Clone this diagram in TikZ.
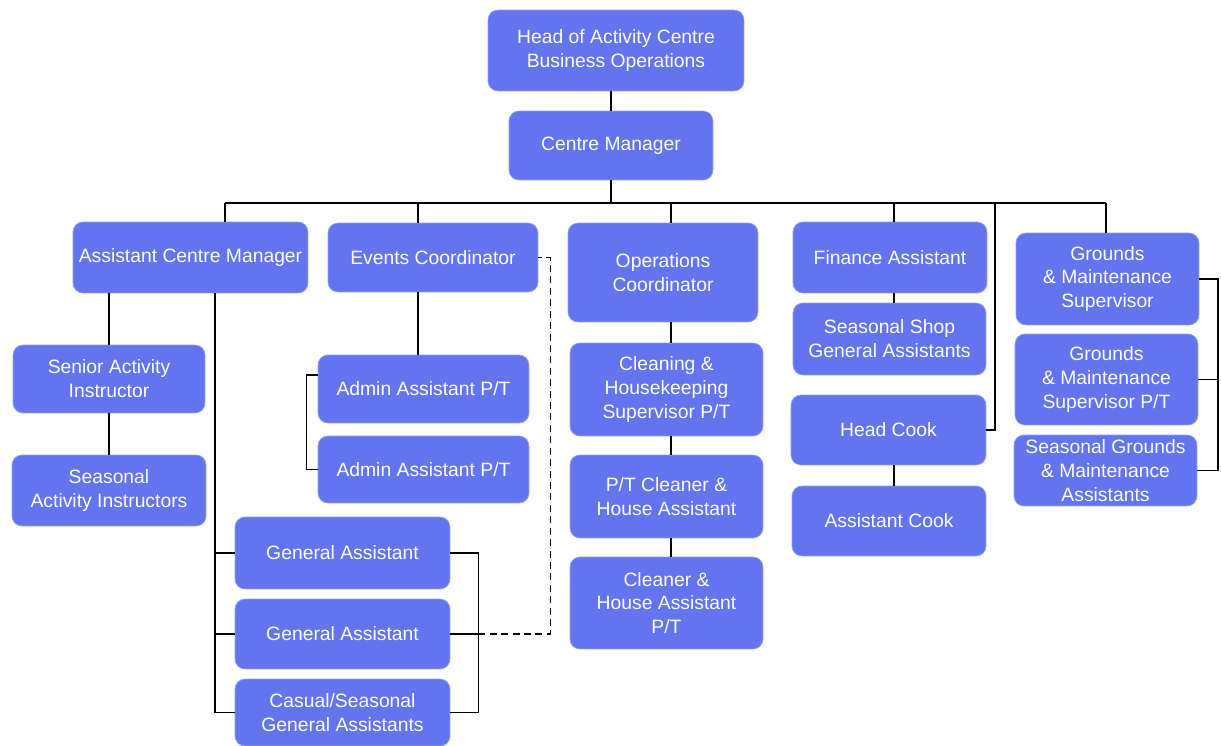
\documentclass[tikz,border=0pt]{standalone}
\usepackage{fontspec}
\setmainfont{Liberation Sans}
\definecolor{postblue}{HTML}{6375EE}

\begin{document}
\begin{tikzpicture}[x=0.02cm,y=-0.02cm,
  post/.style={fill=postblue,draw=postblue!70!white,line width=0.4pt,rounded corners=0.2cm,
    text=white,align=center,inner sep=1pt,font=\fontsize{11}{13.6}\selectfont},
  link/.style={line width=0.8pt}]
\useasboundingbox (0,0) rectangle (1221,746);

\node[post,minimum width=5.12cm,minimum height=1.62cm] (head) at (616,50.5) {Head of Activity Centre\\Business Operations};
\node[post,minimum width=4.08cm,minimum height=1.38cm] (cm) at (611,145.5) {Centre Manager};

\node[post,minimum width=4.7cm,minimum height=1.42cm] (acm) at (190.5,257.5) {Assistant Centre Manager};
\node[post,minimum width=4.2cm,minimum height=1.38cm] (ec) at (433,257.5) {Events Coordinator};
\node[post,minimum width=3.8cm,minimum height=1.98cm] (oc) at (663,272.5) {Operations\\Coordinator};
\node[post,minimum width=3.88cm,minimum height=1.42cm] (fa) at (890,257.5) {Finance Assistant};
\node[post,minimum width=3.66cm,minimum height=1.84cm] (gms) at (1107.5,279) {Grounds\\\& Maintenance\\Supervisor};

\node[post,minimum width=3.84cm,minimum height=1.36cm] (sai) at (109,379) {Senior Activity\\Instructor};
\node[post,minimum width=3.88cm,minimum height=1.42cm] (sais) at (109,490.5) {Seasonal\\Activity Instructors};

\node[post,minimum width=4.22cm,minimum height=1.36cm] (adm1) at (423.5,389) {Admin Assistant P/T};
\node[post,minimum width=4.22cm,minimum height=1.34cm] (adm2) at (423.5,469.5) {Admin Assistant P/T};

\node[post,minimum width=4.3cm,minimum height=1.44cm] (ga1) at (342.5,553) {General Assistant};
\node[post,minimum width=4.3cm,minimum height=1.4cm] (ga2) at (342.5,634) {General Assistant};
\node[post,minimum width=4.3cm,minimum height=1.34cm] (cas) at (342.5,712.5) {Casual/Seasonal\\General Assistants};

\node[post,minimum width=3.86cm,minimum height=1.86cm] (clean) at (666.5,389.5) {Cleaning \&\\Housekeeping\\Supervisor P/T};
\node[post,minimum width=3.86cm,minimum height=1.66cm] (ptc) at (666.5,496.5) {P/T Cleaner \&\\House Assistant};
\node[post,minimum width=3.86cm,minimum height=1.84cm] (chp) at (666.5,603) {Cleaner \&\\House Assistant\\P/T};

\node[post,minimum width=3.86cm,minimum height=1.44cm] (ssga) at (889.5,339) {Seasonal Shop\\General Assistants};
\node[post,minimum width=3.9cm,minimum height=1.4cm] (hc) at (888.5,430) {Head Cook};
\node[post,minimum width=3.88cm,minimum height=1.4cm] (ac) at (889,521) {Assistant Cook};

\node[post,minimum width=3.66cm,minimum height=1.82cm] (gms2) at (1106.5,379.5) {Grounds\\\& Maintenance\\Supervisor P/T};
\node[post,minimum width=3.66cm,minimum height=1.42cm] (sgma) at (1105.5,470.5) {Seasonal Grounds\\\& Maintenance\\Assistants};

% top line
\draw[link] (cm.north) -- (cm.north |- head.south);
\coordinate (b1) at (225,203);
\coordinate (b2) at (418,203);
\coordinate (b3) at (671,203);
\coordinate (b4) at (894,203);
\coordinate (b5) at (995,203);
\coordinate (b6) at (1106,203);
\draw[link] (b1) -- (b6);
\draw[link] (cm.south) -- (cm.south |- b1);
\foreach \b/\n in {b1/acm,b2/ec,b3/oc,b4/fa,b6/gms}
  \draw[link] (\b) -- (\n.north -| \b);
\draw[link] (b5) |- (hc.east);

% assistant centre manager
\draw[link] (sai.north) -- (sai.north |- acm.south);
\draw[link] (sai) -- (sais);
\coordinate (gas) at (215,710);
\draw[link] (gas |- acm.south) -- (gas);
\draw[link] (ga1.west) -| (gas);
\draw[link] (ga2.west) -| (gas);
\draw[link] (cas.west) -| (gas);
\draw[link] (ga1.east) -- ++(28,0) |- (cas.east);
\draw[link] (ga2.east) -- ++(28,0) coordinate (gam);
\draw[link,dash pattern=on 4pt off 2.5pt] (gam) -- ++(72,0) |- (ec.east);

% events coordinator
\draw[link] (ec.south -| b2) -- (adm1.north -| b2);
\draw[link] ([yshift=0.28cm]adm1.west) -- ++(-11,0) |- (adm2.west);

% operations
\draw[link] (oc.south -| b3) -- (clean.north -| b3);
\draw[link] (clean.south -| b3) -- (ptc.north -| b3);
\draw[link] (ptc.south -| b3) -- (chp.north -| b3);

% finance and kitchen
\draw[link] (fa.south -| b4) -- (ssga.north -| b4);
\draw[link] (hc.south -| b4) -- (ac.north -| b4);

% grounds
\coordinate (grb) at (1218,0);
\draw[link] (gms.east) -- (gms.east -| grb) |- (sgma.east);
\draw[link] (gms2.east) -- (gms2.east -| grb);
\end{tikzpicture}
\end{document}
